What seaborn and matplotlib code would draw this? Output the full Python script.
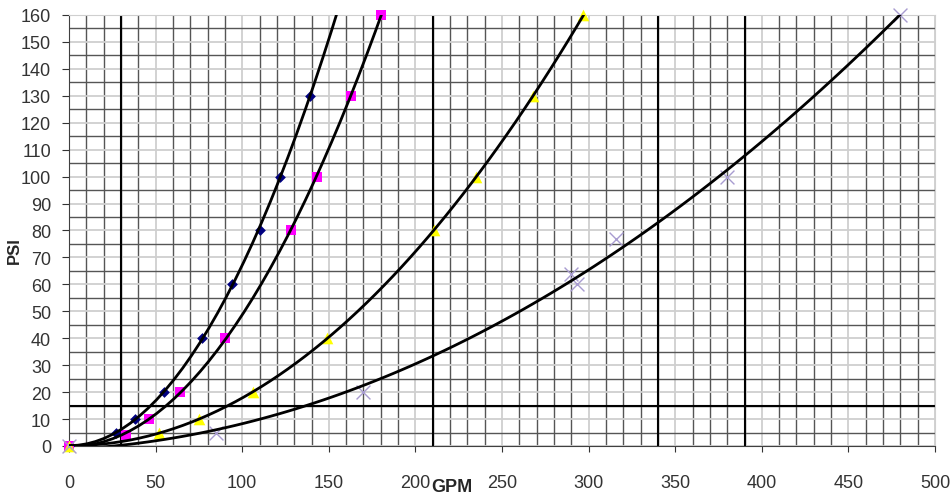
import seaborn as sns
import pandas as pd
import matplotlib
matplotlib.use("Agg")
import matplotlib.pyplot as plt
from matplotlib.ticker import MultipleLocator

# Flow (GPM) vs pressure (PSI) readings for four nozzles
gpm_1 = [0, 27, 38, 55, 77, 94, 110, 122, 139]
psi_1 = [0, 5, 10, 20, 40, 60, 80, 100, 130]

gpm_2 = [0, 33, 46, 64, 90, 128, 143, 163, 180]
psi_2 = [0, 4, 10, 20, 40, 80, 100, 130, 160]

gpm_3 = [0, 52, 75, 106, 149, 211, 235, 268, 297]
psi_3 = [0, 5, 10, 20, 40, 80, 100, 130, 160]

gpm_4 = [0, 85, 170, 290, 293, 316, 380, 480]
psi_4 = [0, 5, 20, 64, 60, 77, 100, 160]

# heavy reference lines on the chart paper
ref_gpm = [30, 210, 340, 390]
ref_psi = [15]

series = [
    (gpm_1, psi_1, "D", "#000080", 30),
    (gpm_2, psi_2, "s", "#ff00ff", 50),
    (gpm_3, psi_3, "^", "#ffff00", 70),
    (gpm_4, psi_4, "x", "#a89cd0", 100),
]

sns.set_style("white")
matplotlib.rcParams["font.family"] = ["Liberation Sans", "DejaVu Sans"]

fig = plt.figure(figsize=(9.51, 5.02), dpi=100)
ax = fig.add_axes([0.0726, 0.1096, 0.9106, 0.8586])
ax.set_xlim(0, 500)
ax.set_ylim(0, 160)

for gpm, psi, marker, color, size in series:
    df = pd.DataFrame({"GPM": gpm, "PSI": psi})
    sns.scatterplot(
        data=df, x="GPM", y="PSI", marker=marker, color=color, s=size,
        linewidth=1.0 if marker == "x" else 0, ax=ax, zorder=4, clip_on=False,
    )
    # second order trendline, same as the spreadsheet one
    sns.regplot(
        data=df, x="GPM", y="PSI", order=2, ci=None, scatter=False,
        truncate=False, ax=ax,
        line_kws={"color": "black", "linewidth": 2.0, "zorder": 5},
    )

ax.set_xlim(0, 500)
ax.set_ylim(0, 160)

# graph paper grid: light lines at the labelled values, dark in between
ax.xaxis.set_major_locator(MultipleLocator(50))
ax.xaxis.set_minor_locator(MultipleLocator(10))
ax.yaxis.set_major_locator(MultipleLocator(10))
ax.yaxis.set_minor_locator(MultipleLocator(5))
ax.grid(which="major", color="#cfcfcf", linewidth=1.3, zorder=1)
ax.grid(which="minor", color="#555555", linewidth=1.0, zorder=1)
ax.set_axisbelow(True)

for x in ref_gpm:
    ax.axvline(x, color="black", linewidth=1.5, zorder=2)
for y in ref_psi:
    ax.axhline(y, color="black", linewidth=1.5, zorder=2)

ax.tick_params(axis="x", which="major", length=4, pad=16, labelsize=13,
               colors="#333333", bottom=True)
ax.tick_params(axis="y", which="major", length=5, pad=8, labelsize=13,
               colors="#333333", left=True)
ax.tick_params(which="minor", length=0)

ax.spines["left"].set_color("#404040")
ax.spines["bottom"].set_color("#404040")
ax.spines["top"].set_color("#cfcfcf")
ax.spines["right"].set_color("#cfcfcf")

ax.set_xlabel("")
ax.set_ylabel("")
fig.text(0.475, 0.028, "GPM", fontsize=13, fontweight="bold", ha="center",
         va="center")
fig.text(0.0155, 0.50, "PSI", fontsize=12, fontweight="bold", ha="center",
         va="center", rotation=90)

fig.savefig("out.png", dpi=100)
